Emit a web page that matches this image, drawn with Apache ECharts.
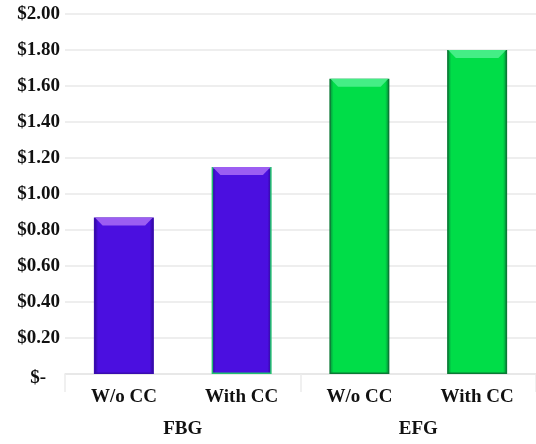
<!DOCTYPE html>
<html>
<head>
<meta charset="utf-8">
<script src="https://cdn.jsdelivr.net/npm/echarts@6/dist/echarts.min.js"></script>
<style>
  html, body { margin: 0; padding: 0; background: #ffffff; }
  #chart { width: 536px; height: 444px; }
</style>
</head>
<body>
<div id="chart"></div>
<script>
// Cost per unit for each configuration
const categories = ['W/o CC', 'With CC', 'W/o CC', 'With CC'];
const groups = ['FBG', 'EFG'];
const costs = [0.87, 1.15, 1.64, 1.80];
const groupOfBar = [0, 0, 1, 1];
const yTicks = [0, 0.2, 0.4, 0.6, 0.8, 1.0, 1.2, 1.4, 1.6, 1.8, 2.0];

// Colour sets per group: face, dark edge, bevel highlight
const palette = [
  { face: '#4b0fe0', edge: '#2a0690', top: '#9c5ef2' },
  { face: '#00dd48', edge: '#05883a', top: '#44ee86' }
];
// The second FBG bar carries a green outline
const outlineColor = ['#3a0cb0', '#22c070', '#0b7a35', '#0b7a35'];

const font = '"Liberation Serif", "Times New Roman", serif';

function faceGradient(p) {
  return new echarts.graphic.LinearGradient(0, 0, 1, 0, [
    { offset: 0, color: p.edge },
    { offset: 0.07, color: p.face },
    { offset: 0.93, color: p.face },
    { offset: 1, color: p.edge }
  ]);
}

const barData = costs.map((v, i) => ({
  value: v,
  itemStyle: {
    color: faceGradient(palette[groupOfBar[i]]),
    borderColor: outlineColor[i],
    borderWidth: 1.5
  }
}));

const bevelData = costs.map((v, i) => ({
  value: v,
  itemStyle: { color: palette[groupOfBar[i]].top }
}));

const chart = echarts.init(document.getElementById('chart'));
chart.setOption({
  animation: false,
  backgroundColor: '#ffffff',
  grid: { left: 65, right: 0, top: 14, bottom: 70 },
  xAxis: [
    {
      type: 'category',
      data: categories,
      position: 'bottom',
      axisLine: { show: true, lineStyle: { color: '#e6e6e6', width: 1.5 } },
      axisTick: { show: false },
      axisLabel: {
        margin: 14,
        fontFamily: font, fontWeight: 'bold', fontSize: 19, color: '#111111'
      }
    },
    {
      type: 'category',
      data: groups,
      position: 'bottom',
      boundaryGap: true,
      axisLine: { show: false },
      axisTick: { show: true, length: 18, lineStyle: { color: '#ececec', width: 1.5 } },
      axisLabel: {
        margin: 46,
        fontFamily: font, fontWeight: 'bold', fontSize: 19, color: '#111111'
      }
    }
  ],
  yAxis: {
    type: 'value',
    min: yTicks[0],
    max: yTicks[yTicks.length - 1],
    interval: 0.2,
    axisLine: { show: false },
    axisTick: { show: false },
    splitLine: { lineStyle: { color: '#e9e9e9', width: 1.5 } },
    axisLabel: {
      margin: 5,
      fontFamily: font, fontWeight: 'bold', fontSize: 19, color: '#111111',
      formatter: v => (Math.abs(v) < 1e-9 ? '{z|$-}' : '$' + v.toFixed(2)),
      rich: {
        z: {
          fontFamily: font, fontWeight: 'bold', fontSize: 19, color: '#111111',
          padding: [8, 14, 0, 0]
        }
      }
    }
  },
  series: [
    {
      type: 'bar',
      xAxisIndex: 0,
      data: barData,
      barWidth: 60,
      z: 2
    },
    {
      // bevelled highlight across the top of each bar
      type: 'pictorialBar',
      xAxisIndex: 0,
      data: bevelData,
      symbol: 'path://M0,0 L60,0 L52,8 L8,8 Z',
      symbolSize: [58, 8],
      symbolPosition: 'end',
      symbolOffset: [0, 0],
      z: 3,
      silent: true
    }
  ]
});
</script>
</body>
</html>
